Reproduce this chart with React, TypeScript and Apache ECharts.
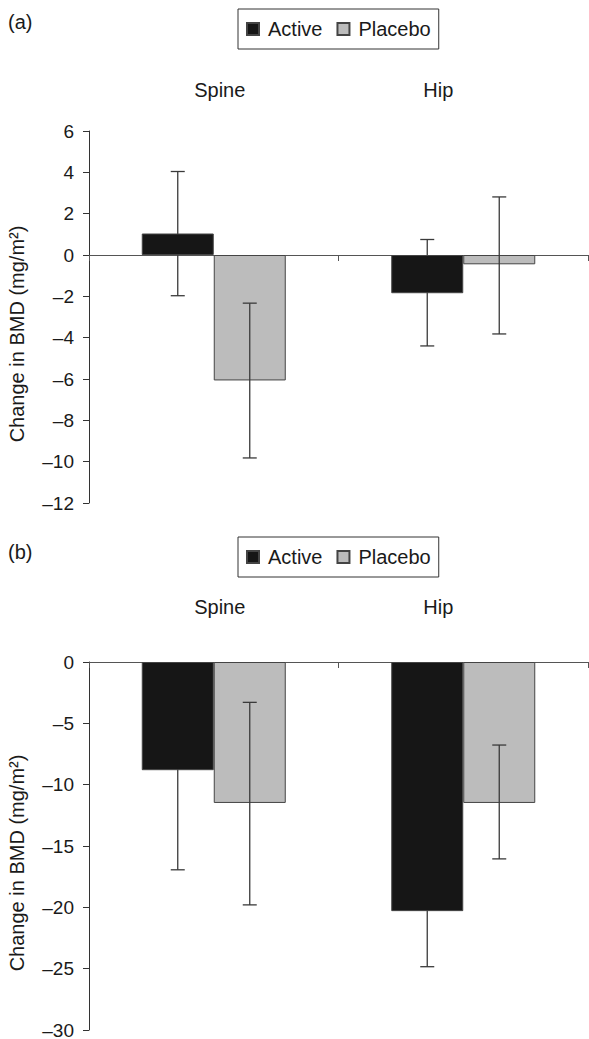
import React, { useEffect, useRef } from "react";
import * as echarts from "echarts";

const categories = ["Spine", "Hip"];
const seriesNames = ["Active", "Placebo"];

// Panel (a)
const activeA = [1.04, -1.85];
const placeboA = [-6.07, -0.45];
const activeErrA = [
  [-1.97, 4.04],
  [-4.4, 0.75],
];
const placeboErrA = [
  [-9.82, -2.33],
  [-3.82, 2.81],
];
const ticksA = { min: -12, max: 6, interval: 2 };

// Panel (b)
const activeB = [-8.82, -20.31];
const placeboB = [-11.49, -11.49];
const activeErrB = [
  [-16.94, -0.7],
  [-24.84, -15.78],
];
const placeboErrB = [
  [-19.8, -3.29],
  [-16.05, -6.77],
];
const ticksB = { min: -30, max: 0, interval: 5 };

const FONT = "'Liberation Sans', Arial, Helvetica, sans-serif";
const TEXT = "#1a1a1a";
const BAR_W = 72;

function errSeries(name: string, err: number[][], xi: number, yi: number, side: number, z: number) {
  return {
    type: "custom",
    name,
    xAxisIndex: xi,
    yAxisIndex: yi,
    z,
    silent: true,
    data: err.map((e, i) => [i, e[0], e[1]]),
    renderItem: (params: any, api: any) => {
      const lo = api.coord([api.value(0), api.value(1)]);
      const hi = api.coord([api.value(0), api.value(2)]);
      const x = lo[0] + (side * BAR_W) / 2;
      const cap = 7;
      const style = { stroke: "#3a3a3a", lineWidth: 1.3 };
      return {
        type: "group",
        children: [
          { type: "line", shape: { x1: x, y1: lo[1], x2: x, y2: hi[1] }, style },
          { type: "line", shape: { x1: x - cap, y1: lo[1], x2: x + cap, y2: lo[1] }, style },
          { type: "line", shape: { x1: x - cap, y1: hi[1], x2: x + cap, y2: hi[1] }, style },
        ],
      };
    },
  };
}

function barSeries(name: string, data: number[], xi: number, yi: number, color: string) {
  return {
    type: "bar",
    name,
    xAxisIndex: xi,
    yAxisIndex: yi,
    z: 2,
    data,
    barWidth: BAR_W,
    barGap: "0%",
    itemStyle: { color, borderColor: "#444", borderWidth: 1 },
  };
}

function legend(top: number) {
  return {
    data: seriesNames,
    left: 238,
    top,
    orient: "horizontal",
    icon: "rect",
    itemWidth: 12,
    itemHeight: 12,
    itemGap: 14,
    padding: [10, 8, 10, 8],
    borderColor: "#333",
    borderWidth: 1,
    selectedMode: false,
    textStyle: { fontFamily: FONT, fontSize: 20, color: TEXT, padding: [0, 0, 0, 4] },
  };
}

function yAxis(gi: number, t: { min: number; max: number; interval: number }) {
  return {
    type: "value",
    gridIndex: gi,
    min: t.min,
    max: t.max,
    interval: t.interval,
    name: "Change in BMD (mg/m²)",
    nameLocation: "middle",
    nameGap: 62,
    nameTextStyle: { fontFamily: FONT, fontSize: 20, color: TEXT, padding: [0, 34, 0, 0] },
    axisLine: { show: true, lineStyle: { color: "#333", width: 1 } },
    axisTick: { show: true, length: 6, lineStyle: { color: "#333" } },
    splitLine: { show: false },
    axisLabel: {
      fontFamily: FONT,
      fontSize: 19,
      color: TEXT,
      margin: 15,
      formatter: (v: number) => String(v).replace("-", "–"),
    },
  };
}

function xAxisLine(gi: number) {
  return {
    type: "category",
    gridIndex: gi,
    data: categories,
    position: "bottom",
    axisLine: { show: true, onZero: true, lineStyle: { color: "#555", width: 1 } },
    axisTick: { show: true, length: 6, lineStyle: { color: "#555" } },
    axisLabel: { show: false },
  };
}

function xAxisLabels(gi: number, margin: number) {
  return {
    type: "category",
    gridIndex: gi,
    data: categories,
    position: "top",
    axisLine: { show: false, onZero: false },
    axisTick: { show: false },
    axisLabel: {
      show: true,
      margin,
      formatter: (v: string) => (v === "Spine" ? "{s|Spine}" : "{h|Hip}"),
      rich: {
        s: { fontFamily: FONT, fontSize: 20, color: TEXT, lineHeight: 20, padding: [0, 0, 0, 12] },
        h: { fontFamily: FONT, fontSize: 20, color: TEXT, lineHeight: 20, padding: [0, 50, 0, 0] },
      },
    },
  };
}

export default function App() {
  const ref = useRef<HTMLDivElement>(null);
  useEffect(() => {
    if (!ref.current) return;
    const chart = echarts.init(ref.current, undefined, { renderer: "svg" });
    chart.setOption({
      animation: false,
      backgroundColor: "#ffffff",
      textStyle: { fontFamily: FONT },
      grid: [
        { left: 89, top: 131, width: 499, height: 372, outerBoundsMode: "none" },
        { left: 89, top: 662, width: 499, height: 368, outerBoundsMode: "none" },
      ],
      legend: [legend(9), legend(537)],
      xAxis: [xAxisLine(0), xAxisLabels(0, 31), xAxisLine(1), xAxisLabels(1, 45)],
      yAxis: [yAxis(0, ticksA), yAxis(1, ticksB)],
      graphic: [
        { type: "text", left: 8, top: 12, style: { text: "(a)", font: `20px ${FONT}`, fill: TEXT } },
        { type: "text", left: 8, top: 542, style: { text: "(b)", font: `20px ${FONT}`, fill: TEXT } },
      ],
      series: [
        errSeries("ActiveErrA", activeErrA, 0, 0, -1, 1),
        barSeries("Active", activeA, 0, 0, "#161616"),
        barSeries("Placebo", placeboA, 0, 0, "#bcbcbc"),
        errSeries("PlaceboErrA", placeboErrA, 0, 0, 1, 3),
        errSeries("ActiveErrB", activeErrB, 2, 1, -1, 1),
        barSeries("Active", activeB, 2, 1, "#161616"),
        barSeries("Placebo", placeboB, 2, 1, "#bcbcbc"),
        errSeries("PlaceboErrB", placeboErrB, 2, 1, 1, 3),
      ],
    });
    return () => chart.dispose();
  }, []);
  return (
    <div
      ref={ref}
      style={{ position: "absolute", left: 0, top: 0, width: 589, height: 1039, background: "#fff" }}
    />
  );
}
